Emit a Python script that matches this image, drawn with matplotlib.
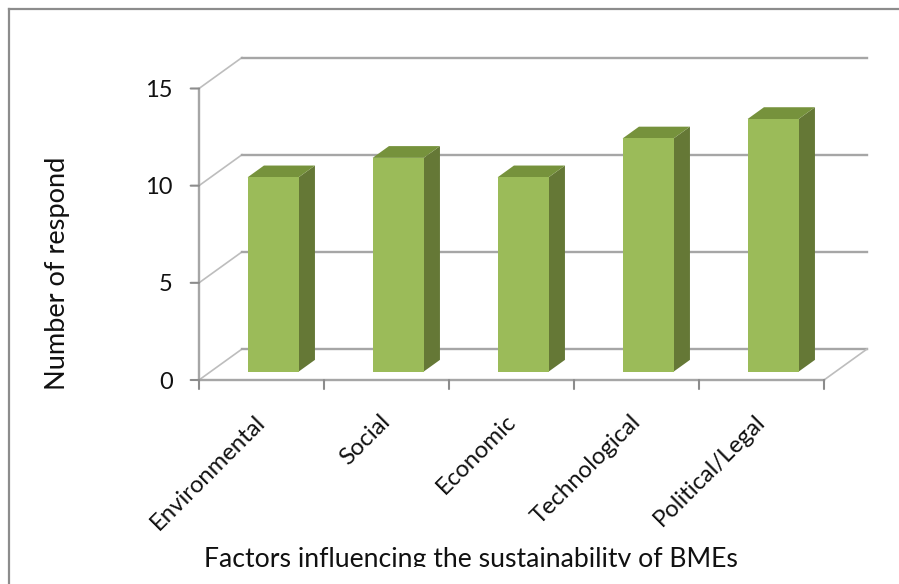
import matplotlib
matplotlib.use("Agg")
import matplotlib.pyplot as plt
from matplotlib.lines import Line2D
from matplotlib.patches import Polygon
from matplotlib.transforms import Bbox

plt.rcParams['font.family'] = ['Lato', 'DejaVu Sans']

factors = ['Environmental', 'Social', 'Economic', 'Technological', 'Political/Legal']
respondents = [10, 11, 10, 12, 13]
y_ticks = [0, 5, 10, 15]

W, H = 899, 584
GRID = '#a6a6a6'
FRONT = '#9bbb59'
TOP = '#76923c'
SIDE = '#657836'

# size of the 3d depth, in data units
DEPTH_X = 43 / 125
DEPTH_Y = 31 / 19.45


def proj(x, y, d=0.0):
    # d = 0 is the front plane, d = 1 the back wall
    return x + d * DEPTH_X, y + d * DEPTH_Y


def px_box(x0, y0, x1, y1):
    # clip rectangle given in pixels from the top left corner
    return Bbox([[x0, H - y1], [x1, H - y0]])


fig = plt.figure(figsize=(W / 100, H / 100), dpi=100, facecolor='white')
ax = fig.add_axes([199 / W, 1 - 380 / H, 625 / W, 291.5 / H])
ax.set_xlim(0, len(factors))
ax.set_ylim(0, 15)
ax.axis('off')

# outer frame of the chart area, top and left only are visible
fig.add_artist(Line2D([9 / W, 9 / W], [0, 1 - 8.5 / H], color='#8c8c8c', lw=1.6))
fig.add_artist(Line2D([9 / W, 1], [1 - 8.5 / H, 1 - 8.5 / H], color='#8c8c8c', lw=1.6))

# walls and gridlines
for v in y_ticks:
    x0, y0 = proj(0, v)
    x1, y1 = proj(0, v, 1)
    x2, y2 = proj(len(factors), v, 1)
    ax.plot([x0, x1], [y0, y1], color='#bdbdbd', lw=1.2, clip_on=False, zorder=1)
    ax.plot([x1, x2], [y1, y2], color=GRID, lw=1.7, clip_on=False, zorder=1)

x1, y1 = proj(len(factors), 0)
x2, y2 = proj(len(factors), 0, 1)
ax.plot([x1, x2], [y1, y2], color='#bdbdbd', lw=1.2, clip_on=False, zorder=1)
ax.plot([0, 0], [0, 15], color=GRID, lw=1.7, clip_on=False, zorder=2)
ax.plot([0, len(factors)], [0, 0], color=GRID, lw=1.7, clip_on=False, zorder=2)

# tick marks
for v in y_ticks:
    ax.annotate('', xy=(0, v), xytext=(-6, 0), textcoords='offset points',
                arrowprops=dict(arrowstyle='-', color='#8c8c8c', lw=1.5, shrinkA=0, shrinkB=0))
    ax.annotate(str(v), xy=(0, v), xytext=(-19, -1.5), textcoords='offset points',
                ha='right', va='center', fontsize=17, color='#111111')
for i in range(len(factors) + 1):
    ax.annotate('', xy=(i, 0), xytext=(0, -6.5), textcoords='offset points',
                arrowprops=dict(arrowstyle='-', color='#8c8c8c', lw=1.5, shrinkA=0, shrinkB=0))

# bars
bar_w = 51 / 125
d_front = 0.27
d_back = 0.65
for i, val in enumerate(respondents):
    left = i + 0.5 - bar_w / 2
    right = left + bar_w
    ax.add_patch(Polygon([proj(right, 0, d_front), proj(right, 0, d_back),
                          proj(right, val, d_back), proj(right, val, d_front)],
                         fc=SIDE, ec='none', clip_on=False, zorder=3))
    ax.add_patch(Polygon([proj(left, val, d_front), proj(right, val, d_front),
                          proj(right, val, d_back), proj(left, val, d_back)],
                         fc=TOP, ec='none', clip_on=False, zorder=3))
    ax.add_patch(Polygon([proj(left, 0, d_front), proj(right, 0, d_front),
                          proj(right, val, d_front), proj(left, val, d_front)],
                         fc=FRONT, ec='none', clip_on=False, zorder=4))

# category labels
for i, name in enumerate(factors):
    ax.annotate(name, xy=(i + 0.5, 0), xytext=(0.6, -27.6), textcoords='offset points',
                rotation=45, rotation_mode='anchor', ha='right', va='center',
                fontsize=17.2, color='#111111')

# axis titles, both run out of the space reserved for them and get cut off
fig.text(204 / W, 1 - 567 / H, 'Factors influencing the sustainability of BMEs',
         fontsize=19.2, color='#111111', ha='left', va='baseline',
         clip_on=True, clip_box=px_box(0, 0, W, 567))
fig.text(65 / W, 1 - 390 / H, 'Number of respondents', rotation=90,
         fontsize=19.6, color='#111111', ha='left', va='baseline',
         rotation_mode='anchor',
         clip_on=True, clip_box=px_box(0, 157, W, H))

fig.savefig('out.png', dpi=100, facecolor='white')
